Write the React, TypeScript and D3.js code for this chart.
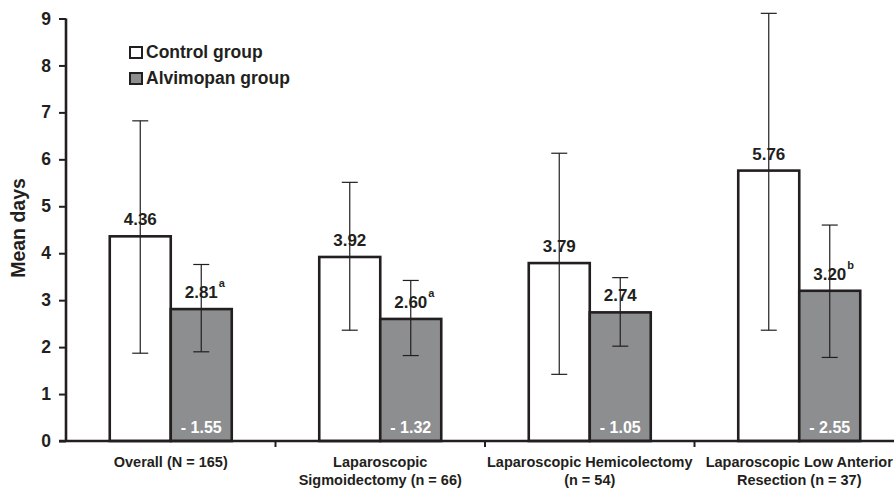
import React, { useEffect, useRef } from "react";
import * as d3 from "d3";

const categories = [
  ["Overall (N = 165)"],
  ["Laparoscopic", "Sigmoidectomy (n = 66)"],
  ["Laparoscopic Hemicolectomy", "(n = 54)"],
  ["Laparoscopic Low Anterior", "Resection (n = 37)"],
];
const controlMeans = [4.36, 3.92, 3.79, 5.76];
const controlHigh = [6.82, 5.51, 6.13, 9.11];
const controlLow = [1.87, 2.36, 1.42, 2.36];
const alvimopanMeans = [2.81, 2.6, 2.74, 3.2];
const alvimopanHigh = [3.76, 3.42, 3.48, 4.6];
const alvimopanLow = [1.9, 1.82, 2.02, 1.78];
const alvimopanNotes = ["a", "a", "", "b"];
const differences = ["- 1.55", "- 1.32", "- 1.05", "- 2.55"];
const yTicks = [0, 1, 2, 3, 4, 5, 6, 7, 8, 9];
const seriesNames = ["Control group", "Alvimopan group"];

const INK = "#231f20";
const GREY = "#8d8e90";
const FONT = "'Liberation Sans', Arial, sans-serif";

export default function App() {
  const svgRef = useRef<SVGSVGElement>(null);

  useEffect(() => {
    const svg = d3.select(svgRef.current);
    svg.selectAll("*").remove();

    const left = 66;
    const bottom = 441;
    const top = 18.5;
    const band = 209.5;
    const barW = 61;

    const y = d3.scaleLinear().domain([0, 9]).range([bottom, top]);
    const x = d3
      .scaleBand<number>()
      .domain(categories.map((_, i) => i))
      .range([left, left + band * categories.length]);

    const g = svg.append("g").style("font-family", FONT).style("font-weight", "bold");

    // bars
    categories.forEach((_, i) => {
      const cx = x(i)! + x.bandwidth() / 2;
      const bars = [
        { v: controlMeans[i], hi: controlHigh[i], lo: controlLow[i], fill: "#ffffff", x0: cx - barW },
        { v: alvimopanMeans[i], hi: alvimopanHigh[i], lo: alvimopanLow[i], fill: GREY, x0: cx },
      ];
      bars.forEach((b, j) => {
        g.append("rect")
          .attr("x", b.x0)
          .attr("y", y(b.v))
          .attr("width", barW)
          .attr("height", bottom - y(b.v))
          .attr("fill", b.fill)
          .attr("stroke", INK)
          .attr("stroke-width", 2.6);
        const mx = b.x0 + barW / 2;
        g.append("line")
          .attr("x1", mx).attr("x2", mx)
          .attr("y1", y(b.hi)).attr("y2", y(b.lo))
          .attr("stroke", INK).attr("stroke-width", 1.2);
        [b.hi, b.lo].forEach((e) => {
          g.append("line")
            .attr("x1", mx - 8).attr("x2", mx + 8)
            .attr("y1", y(e)).attr("y2", y(e))
            .attr("stroke", INK).attr("stroke-width", 1.2);
        });
        const label = g.append("text")
          .attr("x", mx)
          .attr("y", y(b.v) - 11)
          .attr("fill", INK)
          .attr("font-size", 17)
          .attr("text-anchor", "middle")
          .text(b.v.toFixed(2));
        if (j === 1 && alvimopanNotes[i]) {
          label.attr("text-anchor", "start");
          const w = (label.node() as SVGTextElement).getComputedTextLength();
          label.attr("x", mx - w / 2);
          g.append("text")
            .attr("x", mx + w / 2 + 1)
            .attr("y", y(b.v) - 22)
            .attr("fill", INK)
            .attr("font-size", 11)
            .text(alvimopanNotes[i]);
        }
      });
      g.append("text")
        .attr("x", cx + barW / 2)
        .attr("y", bottom - 8)
        .attr("fill", "#ffffff")
        .attr("font-size", 16)
        .attr("text-anchor", "middle")
        .text(differences[i]);

      categories[i].forEach((line, k) => {
        g.append("text")
          .attr("x", cx)
          .attr("y", 467 + k * 18)
          .attr("fill", INK)
          .attr("font-size", 14.5)
          .attr("text-anchor", "middle")
          .text(line);
      });
    });

    // y axis
    const yAxis = g.append("g").attr("transform", `translate(${left},0)`)
      .call(d3.axisLeft(y).tickValues(yTicks).tickSize(7).tickPadding(8).tickFormat(d3.format("d")));
    yAxis.select(".domain").attr("stroke", INK).attr("stroke-width", 2.6).attr("d", `M0,${top}V${bottom}`);
    yAxis.selectAll(".tick line").attr("stroke", INK).attr("stroke-width", 2);
    yAxis.selectAll(".tick text")
      .attr("fill", INK)
      .style("font-size", "17.5px")
      .style("font-family", FONT)
      .style("font-weight", "bold");

    // x axis
    g.append("line")
      .attr("x1", left - 7).attr("x2", 894)
      .attr("y1", bottom).attr("y2", bottom)
      .attr("stroke", INK).attr("stroke-width", 2.6);
    categories.slice(1).forEach((_, i) => {
      const tx = x(i + 1)!;
      g.append("line")
        .attr("x1", tx).attr("x2", tx)
        .attr("y1", bottom).attr("y2", bottom + 6)
        .attr("stroke", INK).attr("stroke-width", 2);
    });

    g.append("text")
      .attr("transform", `translate(25,228) rotate(-90)`)
      .attr("text-anchor", "middle")
      .attr("fill", INK)
      .attr("font-size", 19.5)
      .text("Mean days");

    // legend
    seriesNames.forEach((name, i) => {
      const ly = 52 + i * 26;
      g.append("rect")
        .attr("x", 130).attr("y", ly - 5)
        .attr("width", 12).attr("height", 11)
        .attr("fill", i === 0 ? "#ffffff" : GREY)
        .attr("stroke", INK).attr("stroke-width", 2);
      g.append("text")
        .attr("x", 146).attr("y", ly + 6)
        .attr("fill", INK)
        .attr("font-size", 17.5)
        .text(name);
    });
  }, []);

  return (
    <svg
      ref={svgRef}
      width={894}
      height={490}
      style={{ position: "absolute", left: 0, top: 0, background: "#ffffff" }}
    />
  );
}
